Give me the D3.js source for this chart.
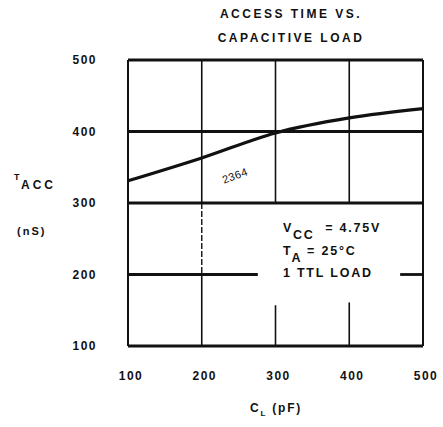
<!DOCTYPE html>
<meta charset="utf-8">
<style>
body { margin: 0; background: #fff; }
text { font-family: "Liberation Sans", Arial, sans-serif; font-weight: bold; fill: #111; }
</style>
<body>
<script src="https://d3js.org/d3.v7.min.js"></script>
<script>
// chart values
var capLoad = [100, 200, 300, 400, 500];
var accessTime = [331, 363, 398, 419, 432];
var xTicks = [100, 200, 300, 400, 500];
var yTicks = [100, 200, 300, 400, 500];
var notes = ["V|CC| \u00A0= 4.75V", "T|A| = 25\u00B0C", "1 TTL LOAD"];

var width = 443, height = 427;
var margin = {top: 60, right: 20, bottom: 81, left: 128};
var w = width - margin.left - margin.right,
    h = height - margin.top - margin.bottom;

var x = d3.scaleLinear().domain([100, 500]).range([0, w]);
var y = d3.scaleLinear().domain([100, 500]).range([h, 0]);

var svg = d3.select("body").append("svg")
    .attr("width", width)
    .attr("height", height);

// title
svg.append("text").attr("x", 291).attr("y", 18).attr("text-anchor", "middle")
    .style("font-size", "12px").style("letter-spacing", "2.5px").text("ACCESS TIME VS.");
svg.append("text").attr("x", 291).attr("y", 42).attr("text-anchor", "middle")
    .style("font-size", "12px").style("letter-spacing", "2.5px").text("CAPACITIVE LOAD");

var g = svg.append("g")
    .attr("transform", "translate(" + margin.left + "," + margin.top + ")");

// horizontal grid (200 line broken for the notes)
g.append("line").attr("x1", 0).attr("x2", w).attr("y1", y(400)).attr("y2", y(400))
    .attr("stroke", "#111").attr("stroke-width", 2.8);
g.append("line").attr("x1", 0).attr("x2", w).attr("y1", y(300)).attr("y2", y(300))
    .attr("stroke", "#111").attr("stroke-width", 2.8);
g.append("line").attr("x1", 0).attr("x2", x(276)).attr("y1", y(200)).attr("y2", y(200))
    .attr("stroke", "#111").attr("stroke-width", 2.8);
g.append("line").attr("x1", x(469)).attr("x2", w).attr("y1", y(200)).attr("y2", y(200))
    .attr("stroke", "#111").attr("stroke-width", 2.8);

// vertical grid
g.append("line").attr("x1", x(200)).attr("x2", x(200)).attr("y1", 0).attr("y2", y(300))
    .attr("stroke", "#111").attr("stroke-width", 1.6);
g.append("line").attr("x1", x(200)).attr("x2", x(200)).attr("y1", y(300)).attr("y2", y(200))
    .attr("stroke", "#111").attr("stroke-width", 1.4).attr("stroke-dasharray", "6,2");
g.append("line").attr("x1", x(200)).attr("x2", x(200)).attr("y1", y(200)).attr("y2", h)
    .attr("stroke", "#111").attr("stroke-width", 1.6);
[300, 400].forEach(function(v) {
  g.append("line").attr("x1", x(v)).attr("x2", x(v)).attr("y1", 0).attr("y2", y(300))
      .attr("stroke", "#111").attr("stroke-width", 1.6);
  g.append("line").attr("x1", x(v)).attr("x2", x(v)).attr("y1", y(v == 300 ? 157 : 161)).attr("y2", h)
      .attr("stroke", "#111").attr("stroke-width", 1.6);
});

// frame
g.append("line").attr("x1", 0).attr("x2", w).attr("y1", 0).attr("y2", 0)
    .attr("stroke", "#111").attr("stroke-width", 3);
g.append("line").attr("x1", 0).attr("x2", w).attr("y1", h).attr("y2", h)
    .attr("stroke", "#111").attr("stroke-width", 3);
g.append("line").attr("x1", 0).attr("x2", 0).attr("y1", 0).attr("y2", h)
    .attr("stroke", "#111").attr("stroke-width", 2);
g.append("line").attr("x1", w).attr("x2", w).attr("y1", 0).attr("y2", h)
    .attr("stroke", "#111").attr("stroke-width", 2);

// curve
var line = d3.line()
    .x(function(d, i) { return x(capLoad[i]); })
    .y(function(d) { return y(d); })
    .curve(d3.curveMonotoneX);
g.append("path").datum(accessTime)
    .attr("d", line)
    .attr("fill", "none")
    .attr("stroke", "#111")
    .attr("stroke-width", 3.2);

g.append("text")
    .attr("transform", "translate(" + (x(230)) + "," + (y(327)) + ") rotate(-20)")
    .style("font-size", "11px").style("font-weight", "normal").style("letter-spacing", "0.5px")
    .text("2364");

// tick labels
g.selectAll(".ylab").data(yTicks).enter().append("text")
    .attr("class", "ylab")
    .attr("x", -31).attr("y", function(d) { return y(d) + 4; })
    .attr("text-anchor", "end")
    .style("font-size", "12px").style("letter-spacing", "1.5px")
    .text(function(d) { return d; });
g.selectAll(".xlab").data(xTicks).enter().append("text")
    .attr("class", "xlab")
    .attr("x", function(d) { return x(d) + 3; }).attr("y", h + 34)
    .attr("text-anchor", "middle")
    .style("font-size", "12px").style("letter-spacing", "1.5px")
    .text(function(d) { return d; });

// notes with subscripts
notes.forEach(function(n, i) {
  var parts = n.split("|");
  var t = g.append("text")
      .attr("x", x(310)).attr("y", y(262) + 2 + i * 22.5)
      .style("font-size", "12.5px").style("letter-spacing", "1.8px");
  t.append("tspan").text(parts[0]);
  if (parts.length > 1) {
    t.append("tspan").attr("dy", 7).text(parts[1]);
    t.append("tspan").attr("dy", -7).text(parts[2]);
  }
});

// axis titles
svg.append("text").attr("x", 14).attr("y", 180).style("font-size", "9px").text("T");
svg.append("text").attr("x", 21).attr("y", 189).style("font-size", "12px").style("letter-spacing", "3px").text("ACC");
svg.append("text").attr("x", 17).attr("y", 235).style("font-size", "11px").style("letter-spacing", "2px").text("(nS)");

var tx = svg.append("text").attr("x", 250).attr("y", 412).style("font-size", "12px").style("letter-spacing", "1.8px");
tx.append("tspan").text("C");
tx.append("tspan").attr("dy", 4).style("font-size", "8px").text("L");
tx.append("tspan").attr("dy", -4).text(" (pF)");
</script>
</body>
